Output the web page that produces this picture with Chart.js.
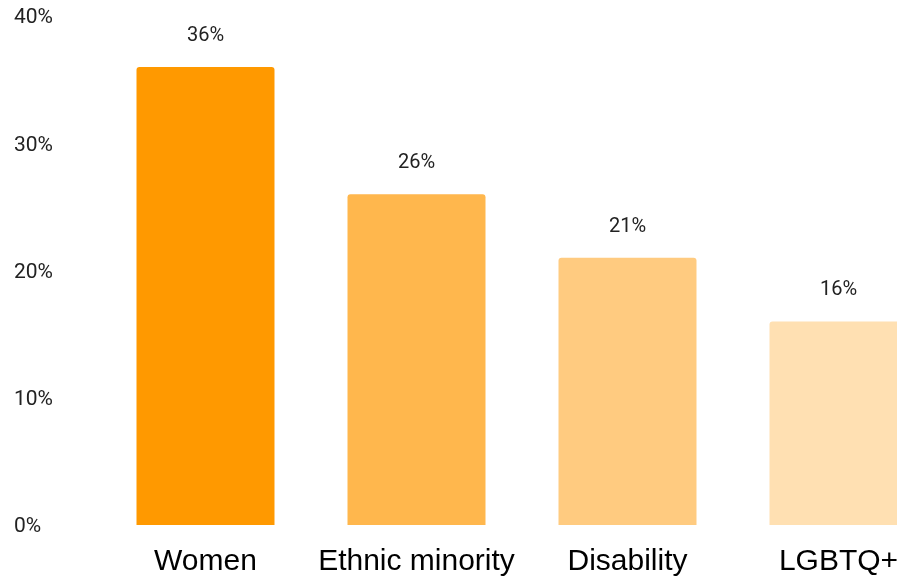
<!DOCTYPE html>
<html>
<head>
<meta charset="utf-8">
<script src="https://cdn.jsdelivr.net/npm/chart.js@4"></script>
<style>
  html, body { margin: 0; padding: 0; background: #fff; overflow: hidden; }
  #wrap { width: 944px; height: 577px; position: relative; }
</style>
</head>
<body>
<div id="wrap"><canvas id="barChart"></canvas></div>
<script>
// chart data
const categories = ['Women', 'Ethnic minority', 'Disability', 'LGBTQ+'];
const shares = [36, 26, 21, 16];
const barColors = ['#FF9900', '#FFB74D', '#FFCB80', '#FFE0B2'];
const yTicks = [0, 10, 20, 30, 40];

// draw value labels above bars
const valueLabels = {
    id: 'valueLabels',
    afterDatasetsDraw(chart) {
        const ctx = chart.ctx;
        const meta = chart.getDatasetMeta(0);
        ctx.save();
        ctx.font = '20px Roboto';
        ctx.fillStyle = '#222';
        ctx.textAlign = 'center';
        ctx.textBaseline = 'middle';
        meta.data.forEach((bar, i) => {
            ctx.fillText(shares[i] + '%', bar.x, bar.y - 31);
        });
        ctx.restore();
    }
};

const ctx = document.getElementById('barChart').getContext('2d');
new Chart(ctx, {
    type: 'bar',
    data: {
        labels: categories,
        datasets: [{
            data: shares,
            backgroundColor: barColors,
            borderRadius: 3,
            borderSkipped: 'bottom',
            barPercentage: 0.654,
            categoryPercentage: 1
        }]
    },
    options: {
        responsive: true,
        maintainAspectRatio: false,
        animation: false,
        layout: { padding: { left: 14, top: 16, right: 0, bottom: 0 } },
        plugins: {
            legend: { display: false },
            tooltip: { enabled: false }
        },
        scales: {
            x: {
                grid: { display: false },
                border: { display: false },
                ticks: {
                    color: '#000',
                    font: { family: '"Liberation Sans", Arial', size: 30 },
                    padding: 11,
                    maxRotation: 0,
                    autoSkip: false
                },
                afterFit(axis) { axis.height = 52; }
            },
            y: {
                min: 0,
                max: 40,
                grid: { display: false },
                border: { display: false },
                afterBuildTicks(axis) { axis.ticks = yTicks.map(v => ({ value: v })); },
                ticks: {
                    color: '#222',
                    crossAlign: 'far',
                    labelOffset: 2,
                    font: { family: 'Roboto', size: 21 },
                    callback: v => v + '%'
                },
                afterFit(axis) { axis.width = 86; }
            }
        }
    },
    plugins: [valueLabels]
});
</script>
</body>
</html>
